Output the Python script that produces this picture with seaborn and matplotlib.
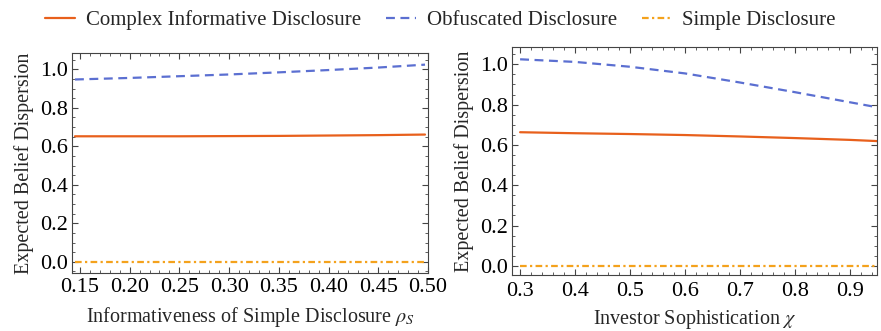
import matplotlib
matplotlib.use("Agg")
import matplotlib.pyplot as plt
from matplotlib.ticker import MultipleLocator, AutoMinorLocator
import seaborn as sns
import pandas as pd

# left panel: informativeness of simple disclosure
rho = [0.145, 0.20, 0.25, 0.30, 0.35, 0.40, 0.45, 0.497]
rho_complex = [0.652, 0.652, 0.652, 0.653, 0.654, 0.656, 0.658, 0.661]
rho_obfusc = [0.947, 0.955, 0.964, 0.973, 0.984, 0.996, 1.009, 1.024]
rho_simple = [0, 0, 0, 0, 0, 0, 0, 0]

# right panel: investor sophistication
chi = [0.30, 0.40, 0.50, 0.60, 0.70, 0.80, 0.90, 0.95]
chi_complex = [0.663, 0.658, 0.654, 0.649, 0.642, 0.634, 0.625, 0.619]
chi_obfusc = [1.025, 1.012, 0.988, 0.955, 0.910, 0.862, 0.812, 0.787]
chi_simple = [0, 0, 0, 0, 0, 0, 0, 0]

labels = ["Complex Informative Disclosure", "Obfuscated Disclosure", "Simple Disclosure"]
colors = ["#E8601C", "#5B6FD1", "#F4A21C"]
styles = ["-", (0, (4, 2.5)), (0, (3, 1.5, 1, 1.5))]

sns.set_style("ticks")
plt.rcParams["font.family"] = ["Liberation Serif", "DejaVu Serif"]
plt.rcParams["mathtext.fontset"] = "stix"

fig = plt.figure(figsize=(8.81, 3.31), dpi=100)
ax1 = fig.add_axes([0.0817, 0.174, 0.4041, 0.665])
ax2 = fig.add_axes([0.581, 0.169, 0.4145, 0.689])

def draw(ax, x, series, xpad):
    for vals, lab, col, ls in zip(series, labels, colors, styles):
        df = pd.DataFrame({"x": x, "y": vals})
        sns.lineplot(data=df, x="x", y="y", ax=ax, color=col, linewidth=1.6,
                     linestyle=ls, label=lab, legend=False)
    for sp in ax.spines.values():
        sp.set_color("#444444")
        sp.set_linewidth(0.8)
    ax.tick_params(which="both", direction="in", top=True, right=True,
                   colors="#444444", labelcolor="black", labelsize=16)
    ax.tick_params(axis="x", pad=xpad)
    ax.tick_params(axis="y", pad=3)
    ax.tick_params(which="major", length=4)
    ax.tick_params(which="minor", length=2)
    ax.yaxis.set_major_locator(MultipleLocator(0.2))
    ax.yaxis.set_minor_locator(AutoMinorLocator(4))
    ax.xaxis.set_minor_locator(AutoMinorLocator(5))
    ax.set_ylabel("Expected Belief Dispersion", fontsize=14.5, labelpad=4)

draw(ax1, rho, [rho_complex, rho_obfusc, rho_simple], 3)
ax1.set_xlim(0.142, 0.50)
ax1.set_ylim(-0.06, 1.083)
ax1.xaxis.set_major_locator(MultipleLocator(0.05))
ax1.xaxis.set_major_formatter(plt.FormatStrFormatter("%.2f"))
ax1.set_xlabel(r"Informativeness of Simple Disclosure $\rho_S$", fontsize=14.5, labelpad=6)

draw(ax2, chi, [chi_complex, chi_obfusc, chi_simple], 5)
ax2.set_xlim(0.285, 0.95)
ax2.set_ylim(-0.046, 1.086)
ax2.xaxis.set_major_locator(MultipleLocator(0.1))
ax2.xaxis.set_major_formatter(plt.FormatStrFormatter("%.1f"))
ax2.set_xlabel(r"Investor Sophistication $\chi$", fontsize=14.5, labelpad=5)

handles, labs = ax1.get_legend_handles_labels()
fig.legend(handles, labs, loc="upper center", ncol=3, frameon=False,
           fontsize=15, bbox_to_anchor=(0.5, 1.025), handlelength=1.45,
           columnspacing=1.2, handletextpad=0.5)

fig.savefig("out.png", dpi=100)
